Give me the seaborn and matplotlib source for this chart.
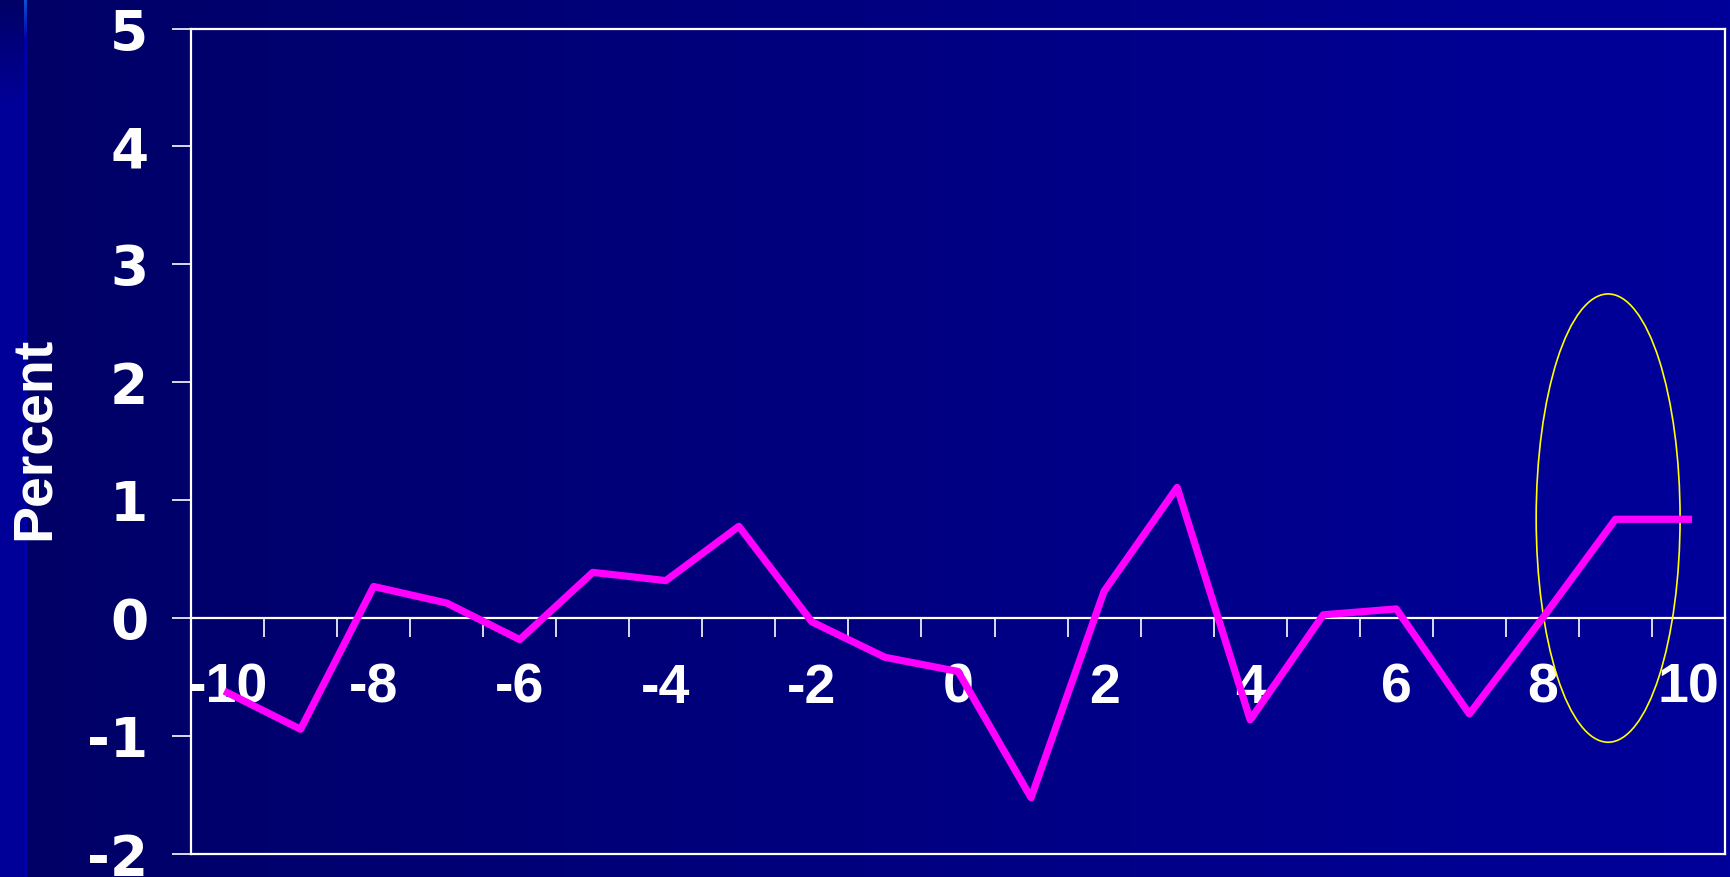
import numpy as np
import matplotlib
matplotlib.use("Agg")
import matplotlib.pyplot as plt
from matplotlib.patches import Ellipse
from matplotlib.ticker import NullFormatter
import seaborn as sns

# Event-time series (years relative to event) and percent change
years = list(range(-10, 11))
percent = [-0.63, -0.94, 0.27, 0.13, -0.18, 0.39, 0.32, 0.78, -0.03, -0.33,
           -0.45, -1.52, 0.23, 1.11, -0.86, 0.03, 0.08, -0.81, 0.00, 0.84, 0.84]
x_tick_labels = [str(v) if v % 2 == 0 else "" for v in years]
y_ticks = [-2, -1, 0, 1, 2, 3, 4, 5]
y_label = "Percent"

W, H, DPI = 1730, 877, 100
fig = plt.figure(figsize=(W / DPI, H / DPI), dpi=DPI)

# ---- slide-style background: navy horizontal gradient with a left accent strip
bg = fig.add_axes([0, 0, 1, 1], zorder=-10)
bg.set_axis_off()
xs = np.linspace(0, 1, W)
ys = np.linspace(0, 1, H)
c_left = np.array([0x00, 0x00, 0x66]) / 255
c_right = np.array([0x00, 0x00, 0x9A]) / 255
grad = c_left[None, :] * (1 - xs[:, None]) + c_right[None, :] * xs[:, None]
img = np.repeat(grad[None, :, :], H, axis=0)
strip_t = np.clip(ys / 0.12, 0, 1)
strip_col = c_left[None, :] * (1 - strip_t[:, None]) + np.array([0, 0, 0x99])[None, :] / 255 * strip_t[:, None]
img[:, :24, :] = strip_col[:, None, :]
lt = np.clip(ys / 0.045, 0, 1)
top_c = np.array([0x10, 0x50, 0xD0]) / 255
bot_c = np.array([0x00, 0x00, 0xA8]) / 255
img[:, 24:27, :] = (top_c[None, :] * (1 - lt[:, None]) + bot_c[None, :] * lt[:, None])[:, None, :]
bg.imshow(img, aspect="auto", interpolation="nearest")

# ---- main chart
ax = fig.add_axes([191 / W, 1 - 854.3 / H, (1725 - 191) / W, (854.3 - 28.5) / H])
ax.set_facecolor("none")

sns.lineplot(x=years, y=percent, ax=ax, color="#FF00FF", linewidth=5.2,
             zorder=5, clip_on=False)

ax.set_xlim(-10.5, 10.5)
ax.set_ylim(-2, 5)

for side in ["left", "top", "right", "bottom"]:
    ax.spines[side].set_color("white")
    ax.spines[side].set_linewidth(1.6)
ax.spines["bottom"].set_position(("data", 0))
ax.axhline(-2, color="white", lw=1.6, clip_on=False, zorder=2.5)

# category boundaries carry tick marks, category centres carry labels
ax.set_xticks(np.arange(-9.5, 10.0, 1.0))
ax.xaxis.set_major_formatter(NullFormatter())
ax.set_xticks(years, minor=True)
ax.set_xticklabels(x_tick_labels, minor=True, fontfamily="Liberation Sans",
                   fontweight="bold", fontsize=40, color="white")
ax.tick_params(axis="x", which="major", direction="out", length=13.7,
               width=1.2, color="white")
ax.tick_params(axis="x", which="minor", length=0, pad=32)

ax.set_yticks(y_ticks)
ax.set_yticklabels([str(v) for v in y_ticks], fontfamily="DejaVu Sans",
                   fontweight="bold", fontsize=39.5, color="white")
ax.tick_params(axis="y", direction="out", length=13.7, width=1.2,
               color="white", pad=17)

# highlight around the final years
ax.add_patch(Ellipse((8.9, 0.85), 1.97, 3.8, fill=False, edgecolor="#FFFF00",
                     lw=1.2, zorder=4, clip_on=False))

fig.text(35 / W, 1 - 438 / H, y_label, rotation=90, ha="center", va="center",
         fontsize=40, fontweight="bold", fontfamily="Liberation Sans",
         color="white")

fig.savefig("out.png", dpi=DPI)
